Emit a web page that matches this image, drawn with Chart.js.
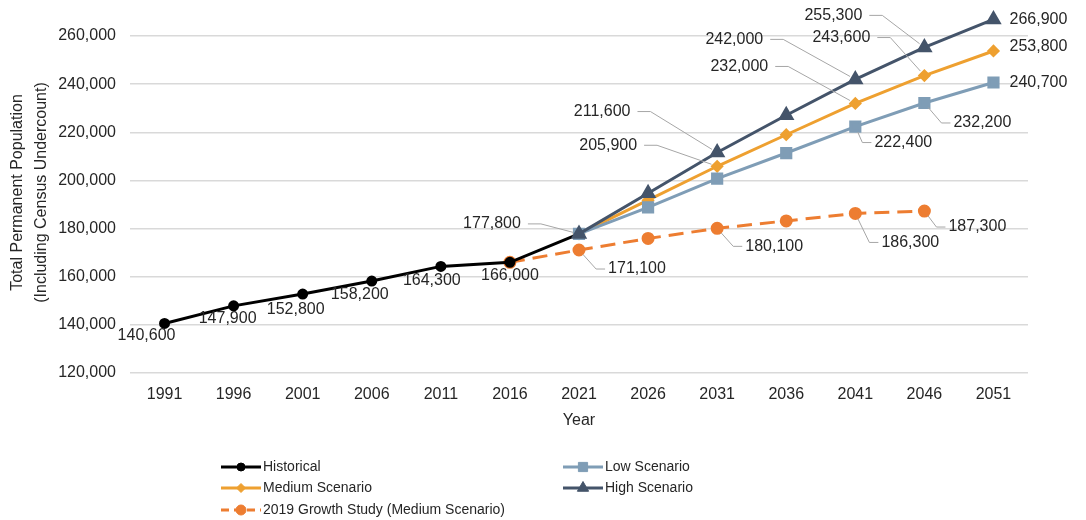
<!DOCTYPE html>
<html>
<head>
<meta charset="utf-8">
<script src="https://cdn.jsdelivr.net/npm/chart.js@4.4.1/dist/chart.umd.min.js"></script>
<style>
  html, body { margin: 0; padding: 0; background: #fff; }
  #wrap { width: 1086px; height: 520px; }
</style>
</head>
<body>
<div id="wrap"><canvas id="popChart" width="1086" height="520"></canvas></div>
<script>
// ---- data ----
const years = ['1991', '1996', '2001', '2006', '2011', '2016', '2021', '2026', '2031', '2036', '2041', '2046', '2051'];
const historical      = [140600, 147900, 152800, 158200, 164300, 166000, 177800, null, null, null, null, null, null];
const lowScenario     = [null, null, null, null, null, null, 177800, 188800, 200800, 211400, 222400, 232200, 240700];
const mediumScenario  = [null, null, null, null, null, null, 177800, 191800, 205900, 219000, 232000, 243600, 253800];
const highScenario    = [null, null, null, null, null, null, 177800, 194700, 211600, 227100, 242000, 255300, 266900];
const growthStudy2019 = [null, null, null, null, null, 166000, 171100, 175900, 180100, 183200, 186300, 187300, null];
const yTicks = [120000, 140000, 160000, 180000, 200000, 220000, 240000, 260000];

// label placement: index -> [dx, dy, leader line]
const labelPlacement = {
  'Historical': { 0: [-18, 12], 1: [-6, 13], 2: [-7, 16], 3: [-12, 14], 4: [-9, 14], 5: [0, 13], 6: [-87, -10, true] },
  'Low Scenario': { 10: [48, 16, true], 11: [58, 20, true], 12: [45, 0] },
  'Medium Scenario': { 8: [-109, -21, true], 10: [-116, -37, true], 11: [-83, -38, true], 12: [45, -4] },
  'High Scenario': { 8: [-115, -41, true], 10: [-121, -40, true], 11: [-91, -32, true], 12: [45, 0] },
  '2019 Growth Study (Medium Scenario)': { 6: [58, 19, true], 8: [57, 18, true], 10: [55, 29, true], 11: [53, 16, true] }
};

const TEXT = '#262626';
Chart.defaults.font.family = '"Liberation Sans", Arial, sans-serif';
Chart.defaults.color = TEXT;

// ---- plugins ----
const pointLabels = {
  id: 'pointLabels',
  afterDatasetsDraw(chart) {
    const ctx = chart.ctx;
    ctx.save();
    ctx.font = '16px "Liberation Sans", Arial, sans-serif';
    ctx.textAlign = 'center';
    ctx.textBaseline = 'middle';
    chart.data.datasets.forEach((ds, di) => {
      const place = labelPlacement[ds.label];
      if (!place) return;
      const meta = chart.getDatasetMeta(di);
      Object.keys(place).forEach(k => {
        const idx = +k;
        const [dx, dy, leader] = place[k];
        const pt = meta.data[idx];
        if (!pt || ds.data[idx] == null) return;
        const text = ds.data[idx].toLocaleString('en-US');
        const cx = pt.x + dx, cy = pt.y + dy;
        const w = ctx.measureText(text).width;
        if (leader) {
          const left = dx < 0;
          const sx = left ? cx + w / 2 + 7 : cx - w / 2 - 3;
          const ex = left ? sx + 13 : sx - 9;
          const ang = Math.atan2(pt.y - cy, pt.x - ex);
          ctx.strokeStyle = '#a6a6a6';
          ctx.lineWidth = 1;
          ctx.beginPath();
          ctx.moveTo(sx, cy);
          ctx.lineTo(ex, cy);
          ctx.lineTo(pt.x - Math.cos(ang) * 6, pt.y - Math.sin(ang) * 6);
          ctx.stroke();
        }
        ctx.fillStyle = TEXT;
        ctx.fillText(text, cx, cy);
      });
    });
    ctx.restore();
  }
};

// two-column legend below the plot
const gridLegend = {
  id: 'gridLegend',
  afterDraw(chart) {
    const ctx = chart.ctx;
    const cols = [221, 563];
    const rows = [467, 488, 510];
    chart.data.datasets.forEach((ds, i) => {
      const x = cols[i % 2], y = rows[Math.floor(i / 2)];
      ctx.save();
      ctx.strokeStyle = ds.borderColor;
      ctx.lineWidth = ds.borderWidth;
      ctx.setLineDash(ds.borderDash ? [8, 5] : []);
      ctx.beginPath();
      ctx.moveTo(x, y);
      ctx.lineTo(x + 40, y);
      ctx.stroke();
      ctx.setLineDash([]);
      ctx.fillStyle = ds.pointBackgroundColor;
      ctx.lineWidth = 1;
      Chart.helpers.drawPoint(ctx, { pointStyle: ds.pointStyle, radius: ds.pointRadius, borderWidth: 1, rotation: 0 }, x + 20, y);
      ctx.fillStyle = TEXT;
      ctx.font = '14px "Liberation Sans", Arial, sans-serif';
      ctx.textAlign = 'left';
      ctx.textBaseline = 'middle';
      ctx.fillText(ds.label, x + 42, y);
      ctx.restore();
    });
  }
};

function lineSet(label, data, color, style, radius, order, extra) {
  return Object.assign({
    label, data, order,
    borderColor: color,
    backgroundColor: color,
    pointBackgroundColor: color,
    pointBorderColor: color,
    borderWidth: 3,
    pointStyle: style,
    pointRadius: radius,
    pointHoverRadius: radius,
    tension: 0,
    spanGaps: false,
    clip: false
  }, extra || {});
}

new Chart(document.getElementById('popChart'), {
  type: 'line',
  data: {
    labels: years,
    datasets: [
      lineSet('Historical', historical, '#000000', 'circle', 4, 3),
      lineSet('Low Scenario', lowScenario, '#7f9db6', 'rect', 6.5, 1),
      lineSet('Medium Scenario', mediumScenario, '#eea030', 'rectRot', 4.5, 2),
      lineSet('High Scenario', highScenario, '#44546a', 'triangle', 6.5, 0),
      lineSet('2019 Growth Study (Medium Scenario)', growthStudy2019, '#ed7d31', 'circle', 5, 4, { borderDash: [15, 8] })
    ]
  },
  options: {
    responsive: false,
    animation: false,
    layout: { padding: { top: 12, right: 58, bottom: 70, left: 0 } },
    plugins: { legend: { display: false }, tooltip: { enabled: false } },
    scales: {
      x: {
        offset: true,
        grid: { display: false },
        border: { display: false },
        ticks: { color: TEXT, font: { size: 16 }, padding: 4, maxRotation: 0 },
        title: { display: true, text: 'Year', color: TEXT, font: { size: 16 }, padding: { top: 0, bottom: 20 } },
        afterFit(s) { s.height = 77; s.paddingLeft = 0; s.paddingRight = 0; }
      },
      y: {
        min: 120000,
        max: 270000,
        grid: { color: '#d9d9d9', lineWidth: 1.5, drawTicks: false },
        border: { display: false },
        ticks: {
          color: TEXT, font: { size: 16 }, padding: 14,
          callback: v => v.toLocaleString('en-US')
        },
        afterBuildTicks(s) { s.ticks = yTicks.map(v => ({ value: v })); },
        title: {
          display: true,
          text: ['Total Permanent Population', '(Including Census Undercount)'],
          color: TEXT,
          font: { size: 16, lineHeight: 1.5 },
          padding: { top: 6, bottom: 0 }
        },
        afterFit(s) { s.width = 130; s.paddingTop = 0; s.paddingBottom = 0; }
      }
    }
  },
  plugins: [pointLabels, gridLegend]
});
</script>
</body>
</html>
